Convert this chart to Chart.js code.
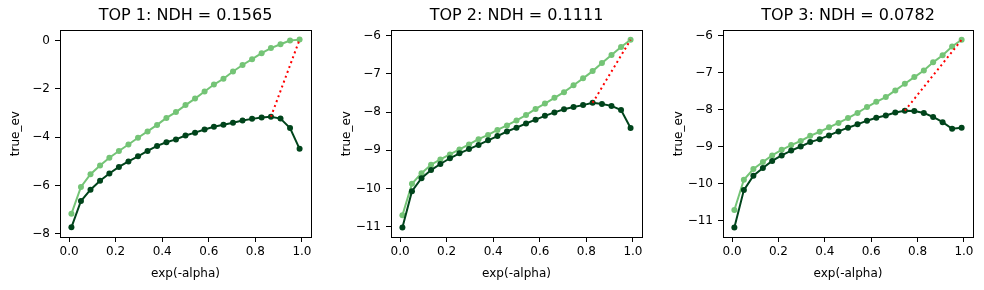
<!DOCTYPE html>
<html>
<head>
<meta charset="utf-8">
<script src="https://cdn.jsdelivr.net/npm/chart.js@4/dist/chart.umd.min.js"></script>
<style>
  body { margin: 0; background: #fff; }
  #wrap { position: relative; width: 984px; height: 290px; }
  #wrap canvas { position: absolute; left: 0; top: 0; }
</style>
</head>
<body>
<div id="wrap">
  <canvas id="c1" width="984" height="290"></canvas>
  <canvas id="c2" width="984" height="290"></canvas>
  <canvas id="c3" width="984" height="290"></canvas>
</div>
<script>
// x values (exp(-alpha)), shared by all panels
var xs = [0.01, 0.051, 0.092, 0.133, 0.173, 0.214, 0.255, 0.296, 0.337, 0.378, 0.418, 0.459, 0.5,
          0.541, 0.582, 0.622, 0.663, 0.704, 0.745, 0.786, 0.827, 0.867, 0.908, 0.949, 0.99];

var titles = ['TOP 1: NDH = 0.1565', 'TOP 2: NDH = 0.1111', 'TOP 3: NDH = 0.0782'];

var light1 = [-7.17, -6.06, -5.53, -5.17, -4.85, -4.57, -4.30, -4.02, -3.76, -3.49, -3.20, -2.96, -2.67,
              -2.40, -2.11, -1.82, -1.58, -1.28, -1.01, -0.77, -0.52, -0.31, -0.15, 0.0, 0.04];
var dark1 = [-7.73, -6.64, -6.17, -5.80, -5.50, -5.23, -5.00, -4.79, -4.57, -4.36, -4.21, -4.09, -3.93,
             -3.81, -3.68, -3.57, -3.48, -3.40, -3.31, -3.24, -3.18, -3.15, -3.23, -3.62, -4.48];

var light2 = [-10.70, -9.88, -9.60, -9.38, -9.24, -9.11, -8.98, -8.85, -8.71, -8.60, -8.47, -8.35, -8.22,
              -8.08, -7.92, -7.78, -7.63, -7.48, -7.30, -7.12, -6.93, -6.72, -6.51, -6.30, -6.11];
var dark2 = [-11.02, -10.07, -9.73, -9.52, -9.36, -9.21, -9.08, -8.97, -8.86, -8.74, -8.63, -8.51, -8.41,
             -8.30, -8.20, -8.10, -8.01, -7.93, -7.87, -7.82, -7.76, -7.79, -7.84, -7.95, -8.42];

var light3 = [-10.72, -9.90, -9.61, -9.42, -9.24, -9.09, -8.96, -8.85, -8.71, -8.60, -8.48, -8.36, -8.23,
              -8.09, -7.93, -7.79, -7.66, -7.48, -7.30, -7.12, -6.94, -6.72, -6.53, -6.29, -6.11];
var dark3 = [-11.19, -10.18, -9.79, -9.58, -9.39, -9.24, -9.11, -9.00, -8.88, -8.80, -8.70, -8.59, -8.49,
             -8.40, -8.30, -8.22, -8.16, -8.08, -8.03, -8.04, -8.09, -8.20, -8.34, -8.52, -8.49];

var xTicks = [0, 0.2, 0.4, 0.6, 0.8, 1.0];
var yTicks1 = [-8, -6, -4, -2, 0];
var yTicks2 = [-11, -10, -9, -8, -7, -6];
var yTicks3 = [-11, -10, -9, -8, -7, -6];

var LIGHT = '#74c476';
var DARK = '#00441b';
var FONT = 'DejaVu Sans';

Chart.defaults.font.family = FONT;
Chart.defaults.color = '#000';

// draws the full axes box like matplotlib
var framePlugin = {
  id: 'frame',
  afterDraw: function(chart) {
    var a = chart.chartArea, ctx = chart.ctx;
    ctx.save();
    ctx.strokeStyle = '#000';
    ctx.lineWidth = 1;
    ctx.strokeRect(Math.round(a.left) + 0.5, Math.round(a.top) + 0.5,
                   Math.round(a.right - a.left), Math.round(a.bottom - a.top));
    ctx.restore();
  }
};

function pts(x, y) {
  var out = [];
  for (var i = 0; i < x.length; i++) out.push({x: x[i], y: y[i]});
  return out;
}

function fmtY(v) {
  return v < 0 ? '\u2212' + Math.abs(v) : String(v);
}

function makePanel(id, title, light, dark, yTicks, ymin, ymax, left, right) {
  // red dotted line: from the max of the dark curve to the last light point
  var k = 0;
  for (var i = 1; i < dark.length; i++) if (dark[i] > dark[k]) k = i;
  var n = light.length - 1;
  var red = [{x: xs[k], y: dark[k]}, {x: xs[n], y: light[n]}];

  var YW = 60;
  new Chart(document.getElementById(id), {
    type: 'scatter',
    data: {
      datasets: [
        {data: red, showLine: true, borderColor: 'red', borderWidth: 2,
         borderDash: [2, 3.2], pointRadius: 0, order: 0},
        {data: pts(xs, dark), showLine: true, borderColor: DARK, backgroundColor: DARK,
         borderWidth: 2, pointRadius: 3, pointBorderWidth: 0, order: 1},
        {data: pts(xs, light), showLine: true, borderColor: LIGHT, backgroundColor: LIGHT,
         borderWidth: 2, pointRadius: 3, pointBorderWidth: 0, order: 2}
      ]
    },
    options: {
      responsive: false,
      animation: false,
      events: [],
      layout: {padding: {left: left - YW, right: 984 - right, top: 0, bottom: 0}},
      plugins: {
        legend: {display: false},
        tooltip: {enabled: false},
        title: {display: true, text: title, fullSize: false, color: '#000',
                font: {size: 16, weight: 'normal'}, padding: {top: 6, bottom: 5}}
      },
      scales: {
        x: {
          type: 'linear', min: -0.039, max: 1.039,
          afterBuildTicks: function(s) { s.ticks = xTicks.map(function(v) { return {value: v}; }); },
          afterFit: function(s) { s.height = 53; },
          border: {display: false},
          grid: {drawOnChartArea: false, drawTicks: true, tickLength: 5, color: '#000'},
          ticks: {font: {size: 12}, color: '#000', padding: 3, maxRotation: 0,
                  callback: function(v) { return v.toFixed(1); }},
          title: {display: true, text: 'exp(-alpha)', font: {size: 12}, color: '#000',
                  padding: {top: 0, bottom: 9}}
        },
        y: {
          type: 'linear', min: ymin, max: ymax,
          afterBuildTicks: function(s) { s.ticks = yTicks.map(function(v) { return {value: v}; }); },
          afterFit: function(s) { s.width = YW; },
          border: {display: false},
          grid: {drawOnChartArea: false, drawTicks: true, tickLength: 5, color: '#000'},
          ticks: {font: {size: 12}, color: '#000', padding: 5, callback: fmtY},
          title: {display: true, text: 'true_ev', font: {size: 12}, color: '#000',
                  padding: {top: 9, bottom: 0}}
        }
      }
    },
    plugins: [framePlugin]
  });
}

makePanel('c1', titles[0], light1, dark1, yTicks1, -8.13, 0.43, 60, 311);
makePanel('c2', titles[1], light2, dark2, yTicks2, -11.27, -5.86, 391, 642);
makePanel('c3', titles[2], light3, dark3, yTicks3, -11.45, -5.85, 723, 973);
</script>
</body>
</html>
